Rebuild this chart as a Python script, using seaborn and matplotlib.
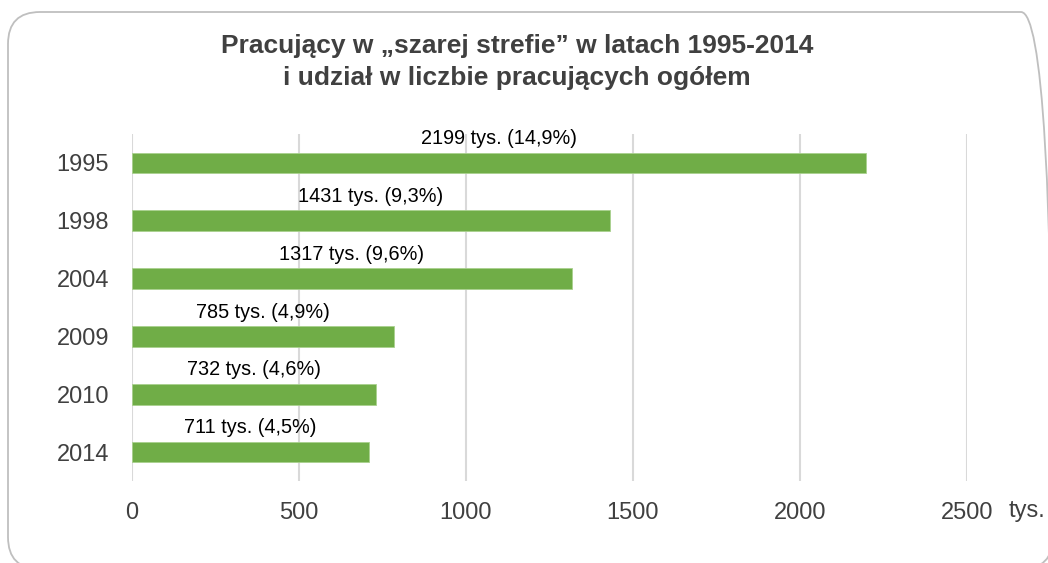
import matplotlib
matplotlib.use("Agg")
import matplotlib.pyplot as plt
from matplotlib.patches import FancyBboxPatch
import seaborn as sns
import pandas as pd

# data
years = ["1995", "1998", "2004", "2009", "2010", "2014"]
workers = [2199, 1431, 1317, 785, 732, 711]  # tys.
shares = ["14,9", "9,3", "9,6", "4,9", "4,6", "4,5"]  # % of all employed
x_ticks = [0, 500, 1000, 1500, 2000, 2500]

data = pd.DataFrame({"rok": years, "pracujacy": workers})

sns.set_theme(style="white")
plt.rcParams["font.family"] = ["Liberation Sans", "DejaVu Sans"]

fig = plt.figure(figsize=(10.48, 5.63), dpi=100)
ax = fig.add_axes([132 / 1048, 1 - 481 / 563, (967 - 132) / 1048, (481 - 134) / 563])

# rounded frame around the whole chart (runs off the right and bottom edges)
frame = FancyBboxPatch((8, -6), 1045, 557, boxstyle="round,pad=0,rounding_size=32",
                       transform=None, facecolor="none", edgecolor="#BFBFBF",
                       linewidth=1.3, zorder=0)
fig.patches.append(frame)

sns.barplot(data=data, x="pracujacy", y="rok", order=years, orient="h",
            color="#70AD47", saturation=1, width=0.36, ax=ax,
            edgecolor="#A9D18E", linewidth=0.6, zorder=3)

# value labels centred above each bar
for i, (v, s) in enumerate(zip(workers, shares)):
    ax.text(v / 2, i - 0.42, f"{v} tys. ({s}%)", ha="center", va="center",
            fontsize=14.3, color="black")

ax.set_xlim(0, 2500)
ax.set_ylim(5.5, -0.5)
ax.set_xticks(x_ticks)
ax.set_xticklabels([str(t) for t in x_ticks])
ax.set_xlabel("")
ax.set_ylabel("")
ax.grid(axis="x", color="#D9D9D9", linewidth=1.5, zorder=0)
ax.grid(axis="y", visible=False)
ax.set_axisbelow(True)
for sp in ax.spines.values():
    sp.set_visible(False)
ax.tick_params(axis="x", length=0, pad=15, labelsize=17, labelcolor="#404040")
ax.tick_params(axis="y", length=0, pad=16.5, labelsize=17, labelcolor="#404040")

fig.text(1027 / 1048, 1 - 511 / 563, "tys.", ha="center", va="center",
         fontsize=17, color="#404040")

fig.text(517 / 1048, 1 - 62 / 563,
         "Pracujący w „szarej strefie” w latach 1995-2014\ni udział w liczbie pracujących ogółem",
         ha="center", va="center", fontsize=19, fontweight="bold", color="#404040",
         linespacing=1.38)

fig.savefig("out.png", dpi=100)
